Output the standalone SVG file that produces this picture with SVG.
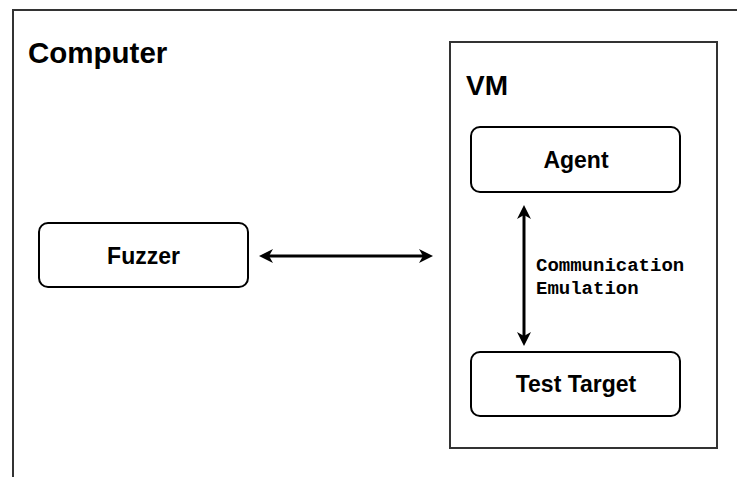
<svg xmlns="http://www.w3.org/2000/svg" width="737" height="477" viewBox="0 0 737 477">
  <style>
    .frame { fill: #ffffff; stroke: #333333; stroke-width: 2; }
    .node { fill: #ffffff; stroke: #000000; stroke-width: 2; }
    .title { font-family: "Liberation Sans", Arial, sans-serif; font-weight: bold; font-size: 28px; fill: #000000; }
    .label { font-family: "Liberation Sans", Arial, sans-serif; font-weight: bold; font-size: 23px; fill: #000000; text-anchor: middle; }
    .mono { font-family: "Liberation Mono", "Courier New", monospace; font-weight: bold; font-size: 19px; fill: #000000; }
    .link { fill: none; stroke: #000000; stroke-width: 3; }
  </style>
  <defs>
    <marker id="arrow" markerUnits="userSpaceOnUse" markerWidth="16" markerHeight="16" viewBox="0 0 16 16" refX="4" refY="8" orient="auto-start-reverse">
      <path d="M0,1 L14,8 L0,15 L4,8 Z" fill="#000000"/>
    </marker>
  </defs>
  <rect width="737" height="477" fill="#ffffff"/>

  <g id="computer">
    <rect class="frame" x="13" y="10" width="800" height="600"/>
    <text class="title" x="28" y="63" style="font-size:29.5px">Computer</text>
  </g>

  <g id="vm">
    <rect class="frame" x="450" y="42" width="267" height="406"/>
    <text class="title" x="466" y="95">VM</text>
  </g>

  <g id="fuzzer">
    <rect class="node" x="39" y="223" width="209" height="64" rx="9"/>
    <text class="label" x="143.5" y="264">Fuzzer</text>
  </g>

  <g id="agent">
    <rect class="node" x="471" y="127" width="209" height="65" rx="9"/>
    <text class="label" x="576" y="168">Agent</text>
  </g>

  <g id="test-target">
    <rect class="node" x="471" y="352" width="209" height="64" rx="9"/>
    <text class="label" x="576" y="392">Test Target</text>
  </g>

  <g id="connectors">
    <line class="link" x1="269" y1="256" x2="423" y2="256" marker-start="url(#arrow)" marker-end="url(#arrow)"/>
    <line class="link" x1="524" y1="215" x2="524" y2="336" marker-start="url(#arrow)" marker-end="url(#arrow)"/>
    <text class="mono" x="536" y="271">Communication</text>
    <text class="mono" x="536" y="294">Emulation</text>
  </g>
</svg>
